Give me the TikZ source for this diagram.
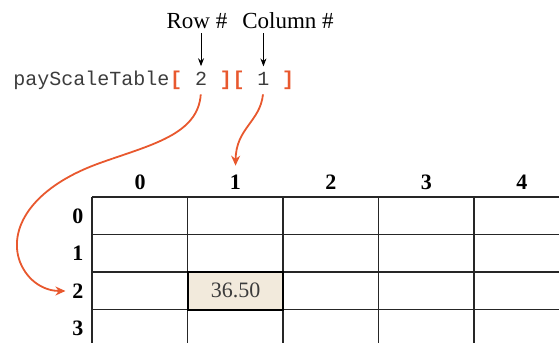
\documentclass[tikz,border=0pt]{standalone}
\usepackage{fontspec}
\setmainfont{Liberation Serif}
\setmonofont{Liberation Mono}
\usepackage{xcolor}
\usetikzlibrary{positioning, arrows.meta, calc}

\definecolor{accent}{RGB}{232,88,46}
\definecolor{cellfill}{RGB}{242,234,220}
\definecolor{inkgray}{RGB}{60,60,60}

\begin{document}
\begin{tikzpicture}[
    x=0.5pt, y=-0.5pt,
    code/.style={font=\ttfamily\fontsize{10}{12}\selectfont, text=inkgray, inner sep=0pt, anchor=base west},
    brk/.style={code, font=\ttfamily\bfseries\fontsize{10}{12}\selectfont, text=accent},
    idx/.style={code, inner xsep=6pt, inner ysep=2.5pt},
    hdr/.style={font=\bfseries\fontsize{11}{13}\selectfont},
    tag/.style={font=\fontsize{11.5}{14}\selectfont, inner sep=2pt},
    grid/.style={line width=0.6pt, black!85},
    hicell/.style={draw, line width=1pt, fill=cellfill, minimum width=47.75pt, minimum height=18.75pt, inner sep=0pt, font=\fontsize{11}{13}\selectfont, text=inkgray},
    arr/.style={-{Stealth[length=4pt, width=3pt]}, line width=0.5pt},
    curv/.style={-{Stealth[length=5pt, width=4.5pt]}, accent, line width=0.9pt}
]
\clip (0,0) rectangle (559,343);

% the expression
\node[code] (arrname) at (13,85) {payScaleTable};
\node[brk] (lb1) at (arrname.base east) {[};
\node[idx] (rowidx) at (lb1.base east) {2};
\node[brk] (rb1) at (rowidx.base east) {]};
\node[brk] (lb2) at (rb1.base east) {[};
\node[idx] (colidx) at (lb2.base east) {1};
\node[brk] (rb2) at (colidx.base east) {]};

\node[tag] (rowtag) at (197,21) {Row \#};
\node[tag] (coltag) at (288,21) {Column \#};

\draw[arr] (rowidx.north |- rowtag.south) -- (rowidx.north);
\draw[arr] (colidx.north |- coltag.south) -- (colidx.north);

% table
\foreach \c in {0,...,5}
    \draw[grid] ({92+95.5*\c},197) -- ({92+95.5*\c},350);
\foreach \r in {0,...,3}
    \draw[grid] (92,{197+37.5*\r}) -- (570,{197+37.5*\r});

\foreach \c in {0,...,4}
    \node[hdr] (col\c) at ({140+95.5*\c},182) {\c};
\foreach \r in {0,...,3}
    \node[hdr] (row\r) at (78,{216+37.5*\r}) {\r};

\node[hicell] (cell) at (235.75,290.75) {36.50};

% index arrows
\draw[curv, shorten <=2pt] (rowidx.south) .. controls (198,135) and (150,145) .. (100,163)
    .. controls (30,188) and (8,230) .. (20,262)
    .. controls (28,282) and (45,291) .. (row2.west);
\draw[curv, shorten <=2pt, shorten >=1pt] (colidx.south) .. controls (260,122) and (236,128) .. (col1.north);

\end{tikzpicture}
\end{document}
